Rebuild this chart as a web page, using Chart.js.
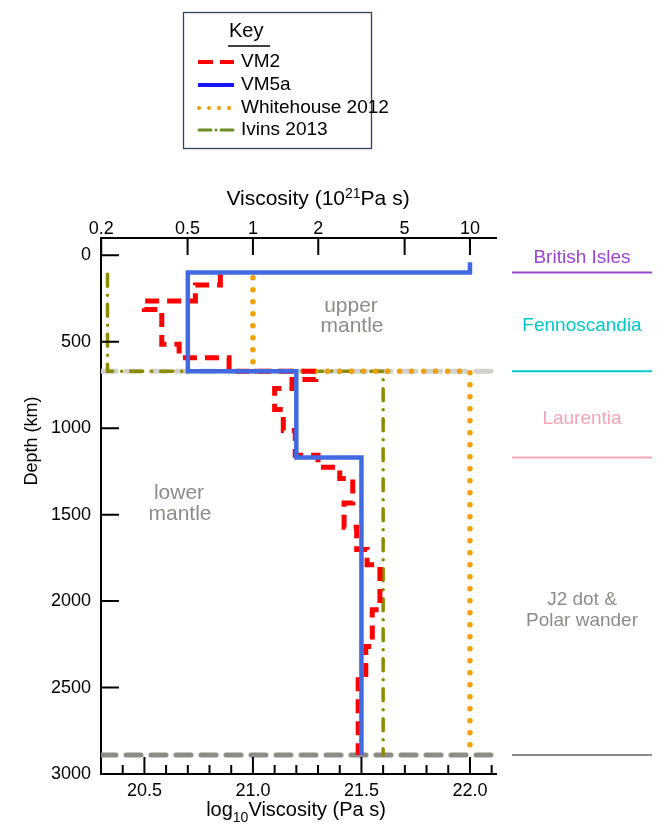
<!DOCTYPE html>
<html>
<head>
<meta charset="utf-8">
<script src="https://cdn.jsdelivr.net/npm/chart.js@4.4.1/dist/chart.umd.min.js"></script>
<style>
  html, body { margin: 0; padding: 0; background: #fff; }
  #wrap { width: 657px; height: 827px; }
</style>
</head>
<body>
<div id="wrap"><canvas id="chart" width="657" height="827"></canvas></div>
<script>
// Viscosity profiles: each layer i runs from breaks[i] to breaks[i+1] (depth, km)
// values are log10 viscosity (Pa s)
const vm2Breaks = [110, 172, 265, 313, 515, 593, 670, 718, 770, 892, 1013, 1156, 1226, 1291, 1432, 1573, 1702, 1790, 2050, 2262, 2455, 2890];
const vm2Log    = [20.85, 20.735, 20.50, 20.58, 20.66, 20.89, 21.29, 21.18, 21.10, 21.14, 21.195, 21.30, 21.40, 21.46, 21.42, 21.478, 21.526, 21.585, 21.55, 21.52, 21.485];

const vm5aBreaks = [40, 100, 670, 1170, 2890];
const vm5aLog    = [22.0, 20.7, 21.2, 21.5];

const w12Breaks = [130, 670, 2890];
const w12Log    = [21.0, 22.0];

const ivinsBreaks = [110, 670, 2890];
const ivinsLog    = [20.33, 21.6];

// mantle boundaries (upper/lower mantle, core-mantle boundary)
const boundaryDepths = [670, 2890];
const boundaryX = [20.3, 22.1];

// axis ticks
const depthTicks = [0, 500, 1000, 1500, 2000, 2500, 3000];
const logLabels = [20.5, 21.0, 21.5, 22.0];
const topTickValues = [0.2, 0.5, 1, 2, 5, 10];   // 10^21 Pa s
const topTickLabels = ['0.2', '0.5', '1', '2', '5', '10'];

// regions sensitive to each depth range (right side)
const regionNames  = ['British Isles', 'Fennoscandia', 'Laurentia', 'J2 dot &\nPolar wander'];
const regionDepths = [100, 670, 1170, 2890];
const regionColors = ['#9b45d2', '#00c9c9', '#f3a5b6', '#8c8c86'];

const fontFamily = "'Liberation Sans', Arial, Helvetica, sans-serif";

function stepPath(vals, breaks) {
    const pts = [];
    vals.forEach((v, i) => {
        pts.push({ x: v, y: breaks[i] });
        pts.push({ x: v, y: breaks[i + 1] });
    });
    return pts;
}

function hLine(depth) {
    return boundaryX.map(x => ({ x, y: depth }));
}

const bottomTicks = [];
for (let i = 203; i <= 221; i++) bottomTicks.push({ value: i / 10 });

function drawRich(ctx, parts, cx, baseline) {
    let total = 0;
    parts.forEach(p => {
        ctx.font = p.size + 'px ' + fontFamily;
        p.w = ctx.measureText(p.t).width;
        total += p.w;
    });
    let xPos = cx - total / 2;
    ctx.textAlign = 'left';
    ctx.textBaseline = 'alphabetic';
    parts.forEach(p => {
        ctx.font = p.size + 'px ' + fontFamily;
        ctx.fillText(p.t, xPos, baseline + (p.dy || 0));
        xPos += p.w;
    });
}

const decor = {
    id: 'decor',
    afterDraw(chart) {
        const { ctx, chartArea: a, scales: { x, x2, y } } = chart;
        ctx.save();

        // inward tick marks
        ctx.strokeStyle = '#000';
        ctx.lineWidth = 2;
        ctx.beginPath();
        y.ticks.forEach(t => {
            const p = y.getPixelForValue(t.value);
            ctx.moveTo(a.left, p); ctx.lineTo(a.left + 18, p);
        });
        x2.ticks.forEach(t => {
            const p = x2.getPixelForValue(t.value);
            ctx.moveTo(p, a.top); ctx.lineTo(p, a.top + 17);
        });
        x.ticks.forEach(t => {
            const p = x.getPixelForValue(t.value);
            const major = Math.abs(t.value * 2 - Math.round(t.value * 2)) < 1e-6;
            ctx.moveTo(p, a.bottom); ctx.lineTo(p, a.bottom - (major ? 17 : 9));
        });
        ctx.stroke();

        // axis titles
        ctx.fillStyle = '#000';
        drawRich(ctx, [
            { t: 'Viscosity (10', size: 21 },
            { t: '21', size: 14, dy: -7 },
            { t: 'Pa s)', size: 21 }
        ], 318, 205);
        drawRich(ctx, [
            { t: 'log', size: 20 },
            { t: '10', size: 14, dy: 6 },
            { t: 'Viscosity (Pa s)', size: 20 }
        ], 296, 816);
        ctx.save();
        ctx.translate(32, 441);
        ctx.rotate(-Math.PI / 2);
        ctx.font = '18px ' + fontFamily;
        ctx.textAlign = 'center';
        ctx.textBaseline = 'middle';
        ctx.fillText('Depth (km)', 0, 0);
        ctx.restore();

        // in-plot annotations
        ctx.fillStyle = '#8c8c86';
        ctx.font = '21px ' + fontFamily;
        ctx.textAlign = 'center';
        ctx.textBaseline = 'middle';
        ctx.fillText('upper', 351, 306);
        ctx.fillText('mantle', 352, 326);
        ctx.fillText('lower', 179, 493);
        ctx.fillText('mantle', 180, 514);

        // region labels and lines to the right of the plot
        ctx.font = '19px ' + fontFamily;
        ctx.lineWidth = 2;
        let prev = null;
        regionDepths.forEach((d, i) => {
            const py = y.getPixelForValue(d);
            ctx.strokeStyle = regionColors[i];
            ctx.beginPath();
            ctx.moveTo(512, py); ctx.lineTo(652, py);
            ctx.stroke();
            ctx.fillStyle = regionColors[i];
            const lines = regionNames[i].split('\n');
            const mid = prev === null ? py - 15 : (y.getPixelForValue(prev) + py) / 2 + 4;
            lines.forEach((s, k) => {
                ctx.fillText(s, 582, mid + (k - (lines.length - 1) / 2) * 21);
            });
            prev = d;
        });

        // key
        ctx.strokeStyle = '#34415c';
        ctx.lineWidth = 1.3;
        ctx.strokeRect(183.5, 12.5, 188, 136);
        ctx.fillStyle = '#000';
        ctx.font = '20px ' + fontFamily;
        ctx.textAlign = 'left';
        ctx.fillText('Key', 229, 31);
        ctx.lineWidth = 1.6;
        ctx.strokeStyle = '#000';
        ctx.beginPath(); ctx.moveTo(228, 46); ctx.lineTo(270, 46); ctx.stroke();

        const keyItems = [
            { label: 'VM2', color: '#ff0000', width: 4, dash: [15, 7], cap: 'butt', yPos: 62 },
            { label: 'VM5a', color: '#1515f5', width: 4, dash: [], cap: 'butt', yPos: 85 },
            { label: 'Whitehouse 2012', color: '#f39c00', width: 4, dash: [0, 10], cap: 'round', yPos: 108 },
            { label: 'Ivins 2013', color: '#6b8e23', width: 3, dash: [12, 5, 0, 5], cap: 'round', yPos: 130 }
        ];
        ctx.font = '19px ' + fontFamily;
        keyItems.forEach(k => {
            ctx.save();
            ctx.strokeStyle = k.color;
            ctx.lineWidth = k.width;
            ctx.lineCap = k.cap;
            ctx.setLineDash(k.dash);
            ctx.beginPath();
            ctx.moveTo(k.cap === 'round' ? 199 : 198, k.yPos);
            ctx.lineTo(234, k.yPos);
            ctx.stroke();
            ctx.restore();
            ctx.fillStyle = '#000';
            ctx.fillText(k.label, 241, k.yPos);
        });

        ctx.restore();
    }
};

const datasets = [
    {
        label: 'VM5a', data: stepPath(vm5aLog, vm5aBreaks),
        borderColor: '#4169e1', borderWidth: 4.5, borderJoinStyle: 'miter'
    },
    {
        label: 'VM2', data: stepPath(vm2Log, vm2Breaks),
        borderColor: '#ff0000', borderWidth: 5, borderDash: [14, 8], borderJoinStyle: 'miter'
    },
    {
        label: 'Whitehouse 2012', data: stepPath(w12Log, w12Breaks),
        borderColor: '#f29e05', borderWidth: 5.5, borderDash: [0, 12], borderCapStyle: 'round'
    },
    {
        label: 'Ivins 2013', data: stepPath(ivinsLog, ivinsBreaks),
        borderColor: '#8c8c00', borderWidth: 3.5, borderDash: [12, 9, 0, 9], borderCapStyle: 'round'
    },
    {
        label: 'CMB', data: hLine(boundaryDepths[1]),
        borderColor: '#8c8c86', borderWidth: 5, borderDash: [15, 10], borderCapStyle: 'round'
    },
    {
        label: '670', data: hLine(boundaryDepths[0]),
        borderColor: '#d2d2cb', borderWidth: 5, borderDash: [15, 10], borderCapStyle: 'round'
    }
].map(d => Object.assign({ showLine: true, pointRadius: 0, fill: false, tension: 0 }, d));

const tickFont = { family: fontFamily, size: 18 };

new Chart(document.getElementById('chart'), {
    type: 'scatter',
    data: { datasets },
    options: {
        responsive: false,
        animation: false,
        events: [],
        layout: { padding: { left: 0, right: 161, top: 180, bottom: 0 } },
        plugins: { legend: { display: false }, tooltip: { enabled: false } },
        scales: {
            x: {
                type: 'linear', position: 'bottom', min: 20.3, max: 22.12,
                grid: { display: false, drawTicks: false },
                border: { display: true, color: '#000', width: 2 },
                afterBuildTicks: axis => { axis.ticks = bottomTicks.map(t => ({ value: t.value })); },
                afterFit: axis => { axis.height = 53; },
                ticks: {
                    autoSkip: false, maxRotation: 0, padding: 6, color: '#000', font: tickFont,
                    callback: v => logLabels.some(l => Math.abs(l - v) < 1e-6) ? v.toFixed(1) : ''
                }
            },
            x2: {
                type: 'linear', position: 'top', min: 20.3, max: 22.12,
                grid: { display: false, drawTicks: false },
                border: { display: true, color: '#000', width: 2 },
                afterBuildTicks: axis => { axis.ticks = topTickValues.map(v => ({ value: 21 + Math.log10(v) })); },
                afterFit: axis => { axis.height = 58; },
                ticks: {
                    autoSkip: false, maxRotation: 0, padding: -2, color: '#000', font: tickFont,
                    callback: (v, i) => topTickLabels[i]
                }
            },
            y: {
                type: 'linear', position: 'left', reverse: true, min: -100, max: 3000,
                grid: { display: false, drawTicks: false },
                border: { display: true, color: '#000', width: 2 },
                afterBuildTicks: axis => { axis.ticks = depthTicks.map(v => ({ value: v })); },
                afterFit: axis => { axis.width = 101; },
                ticks: {
                    autoSkip: false, padding: 10, color: '#000', font: tickFont,
                    callback: v => String(v)
                }
            }
        }
    },
    plugins: [decor]
});
</script>
</body>
</html>
